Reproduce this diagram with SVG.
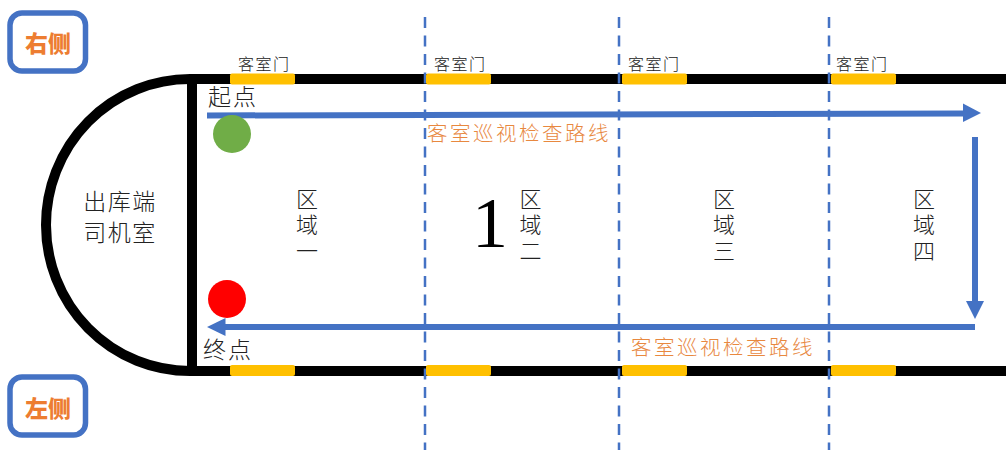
<svg xmlns="http://www.w3.org/2000/svg" width="1006" height="450" viewBox="0 0 1006 450">
<style>
text{font-family:"Noto Sans CJK SC","Liberation Sans",sans-serif;fill:#222;font-weight:300}
.door{fill:#ffc000;stroke:none}
.dl{font-size:16px;letter-spacing:1.5px}
.zone{font-size:22px;writing-mode:vertical-rl;letter-spacing:4px}
.route{font-size:20.500px;fill:#e8883f;letter-spacing:2.500px}
.side{fill:#fff;stroke:#4472c4;stroke-width:5.500}
.sidet{font-size:23px;font-weight:900;fill:#ed7d31;font-family:"Noto Sans CJK SC",sans-serif;text-anchor:middle}
.dash{stroke:#4472c4;stroke-width:2.500;stroke-dasharray:11 7.500;fill:none}
.wall{stroke:#000;stroke-width:10;fill:none}
.arrow{stroke:#4472c4;stroke-width:6;fill:none}
.head{fill:#4472c4}
</style>
<g id="connectors">
<path class="wall" d="M1006 79H190A144 146 0 0 0 190 371H1006"/>
<path class="wall" d="M192 79V371"/>
<g id="dashes">
<path class="dash" d="M425 17V450"/>
<path class="dash" d="M619 17V450"/>
<path class="dash" d="M829 17V450"/>
</g>
<path class="arrow" d="M207 115.500L964 113.500"/>
<path class="head" d="M963 103.500L981 113L963 122Z"/>
<path class="arrow" d="M975 137V302"/>
<path class="head" d="M966 301H984L975 319Z"/>
<path class="arrow" d="M975 327H222"/>
<path class="head" d="M225.500 318V336L207 327Z"/>
</g>
<g id="doors">
<rect class="door" x="230" y="73.500" width="65" height="11" rx="2"/>
<rect class="door" x="426" y="73.500" width="65" height="11" rx="2"/>
<rect class="door" x="622" y="73.500" width="65" height="11" rx="2"/>
<rect class="door" x="831" y="73.500" width="65" height="11" rx="2"/>
<rect class="door" x="230" y="365" width="65" height="11" rx="2"/>
<rect class="door" x="426" y="365" width="65" height="11" rx="2"/>
<rect class="door" x="622" y="365" width="65" height="11" rx="2"/>
<rect class="door" x="831" y="365" width="65" height="11" rx="2"/>
</g>
<g id="door-labels">
<text class="dl" x="238" y="70">客室门</text>
<text class="dl" x="434" y="70">客室门</text>
<text class="dl" x="628" y="70">客室门</text>
<text class="dl" x="836" y="70">客室门</text>
</g>
<g id="start"><text x="208" y="105" font-size="23" letter-spacing="2">起点</text><circle cx="232" cy="134" r="19" fill="#70ad47"/></g>
<g id="end"><circle cx="227" cy="299" r="19" fill="#ff0000"/><text x="203" y="358" font-size="23" letter-spacing="2">终点</text></g>
<g id="cab">
<text x="120" y="210" font-size="23" text-anchor="middle" letter-spacing="1.500">出库端</text>
<text x="120" y="241" font-size="23" text-anchor="middle" letter-spacing="1.500">司机室</text>
</g>
<g id="zone1"><text class="zone" x="307" y="188">区域一</text></g>
<g id="zone2"><text class="zone" x="530.500" y="188">区域二</text></g>
<g id="zone3"><text class="zone" x="724" y="188">区域三</text></g>
<g id="zone4"><text class="zone" x="924" y="188">区域四</text></g>
<text x="490" y="247" font-size="72" text-anchor="middle" style="font-family:'Liberation Serif',serif;fill:#000;font-weight:400">1</text>
<g id="route-top"><text class="route" x="427" y="141">客室巡视检查路线</text></g>
<g id="route-bottom"><text class="route" x="631" y="355">客室巡视检查路线</text></g>
<g id="right-side"><rect class="side" x="10" y="13" width="75.500" height="58" rx="12"/><text class="sidet" x="48" y="52">右侧</text></g>
<g id="left-side"><rect class="side" x="10" y="377" width="75.500" height="58" rx="12"/><text class="sidet" x="48" y="417">左侧</text></g>
</svg>
